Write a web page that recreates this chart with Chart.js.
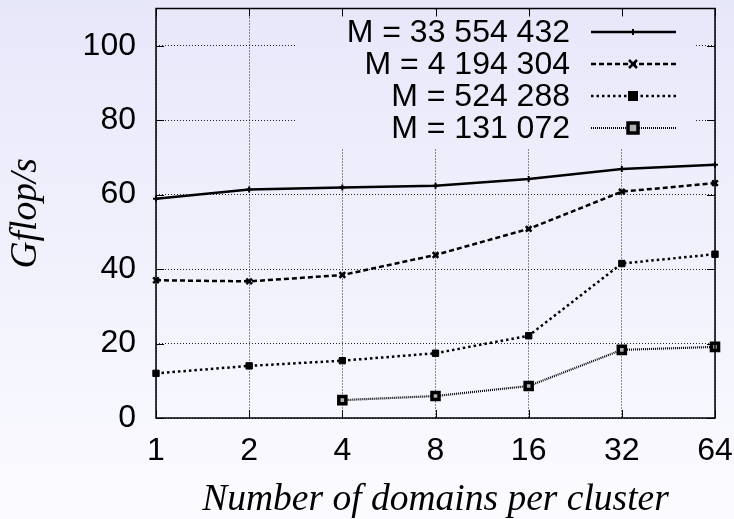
<!DOCTYPE html>
<html>
<head>
<meta charset="utf-8">
<script src="https://cdn.jsdelivr.net/npm/chart.js@4/dist/chart.umd.min.js"></script>
<style>
  html, body { margin: 0; padding: 0; }
  #wrap { width: 734px; height: 519px; position: relative; }
</style>
</head>
<body>
<div id="wrap"><canvas id="chart"></canvas></div>
<script>
// domains per cluster (log2 spaced)
const domains = ['1', '2', '4', '8', '16', '32', '64'];

const seriesLabels = ['M = 33 554 432', 'M = 4 194 304', 'M = 524 288', 'M = 131 072'];

// Gflop/s values
const m33554432 = [58.9, 61.4, 61.9, 62.4, 64.2, 66.9, 68.0];
const m4194304  = [37.0, 36.7, 38.4, 43.8, 50.8, 60.8, 63.1];
const m524288   = [12.0, 14.0, 15.4, 17.4, 22.1, 41.5, 44.0];
const m131072   = [null, null, 4.8, 5.9, 8.6, 18.3, 19.1];

const yTicks = [0, 20, 40, 60, 80, 100];

const SANS = '"Liberation Sans", Arial, sans-serif';
const TICK_FONT = '32px ' + SANS;
const TITLE_FONT = { family: '"Liberation Serif", "Times New Roman", serif', size: 37.5, style: 'italic' };

// line / marker styles, one per series
const styles = [
    { dash: [], width: 2.5, point: 'cross', radius: 3, bg: '#000', bw: 2 },
    { dash: [5, 3], width: 2.5, point: 'crossRot', radius: 4, bg: '#000', bw: 2.5 },
    { dash: [2.5, 3], width: 2.5, point: 'rect', radius: 4.5, bg: '#000', bw: 1 },
    { dash: [1, 1], width: 2.2, point: 'rect', radius: 5, bg: '#b0b0b0', bw: 3.5 }
];

function bgGradient(ctx) {
    const g = ctx.createLinearGradient(0, 0, 0, 519);
    g.addColorStop(0, '#e7e7fa');
    g.addColorStop(1, '#fbfbff');
    return g;
}

const background = {
    id: 'background',
    beforeDraw(chart) {
        const ctx = chart.ctx;
        ctx.save();
        ctx.fillStyle = bgGradient(ctx);
        ctx.fillRect(0, 0, chart.width, chart.height);
        ctx.restore();
    }
};

function drawMarker(ctx, st, x, y) {
    ctx.save();
    ctx.setLineDash([]);
    ctx.strokeStyle = '#000';
    ctx.lineWidth = st.bw;
    const r = st.radius;
    if (st.point === 'cross') {
        ctx.beginPath();
        ctx.moveTo(x - r, y); ctx.lineTo(x + r, y);
        ctx.moveTo(x, y - r); ctx.lineTo(x, y + r);
        ctx.stroke();
    } else if (st.point === 'crossRot') {
        ctx.beginPath();
        ctx.moveTo(x - r, y - r); ctx.lineTo(x + r, y + r);
        ctx.moveTo(x + r, y - r); ctx.lineTo(x - r, y + r);
        ctx.stroke();
    } else {
        ctx.fillStyle = st.bg;
        ctx.fillRect(x - r, y - r, 2 * r, 2 * r);
        ctx.strokeRect(x - r, y - r, 2 * r, 2 * r);
    }
    ctx.restore();
}

// gnuplot-like frame: legend box over the grid, border, inward ticks
const frame = {
    id: 'frame',
    afterDraw(chart) {
        const ctx = chart.ctx;
        const a = chart.chartArea;
        const xs = chart.scales.x, ys = chart.scales.y;
        ctx.save();

        // legend box hides the grid
        ctx.fillStyle = bgGradient(ctx);
        ctx.fillRect(297, a.top + 1, 398, 139);

        // border
        ctx.strokeStyle = '#000';
        ctx.lineWidth = 1.5;
        ctx.setLineDash([]);
        ctx.strokeRect(a.left, a.top, a.right - a.left, a.bottom - a.top);

        // inward ticks
        ctx.lineWidth = 1;
        ctx.beginPath();
        domains.forEach((d, i) => {
            const x = Math.round(xs.getPixelForValue(i)) + 0.5;
            ctx.moveTo(x, a.bottom); ctx.lineTo(x, a.bottom - 8);
            ctx.moveTo(x, a.top); ctx.lineTo(x, a.top + 8);
        });
        yTicks.forEach(v => {
            const y = Math.round(ys.getPixelForValue(v)) + 0.5;
            ctx.moveTo(a.left, y); ctx.lineTo(a.left + 8, y);
            ctx.moveTo(a.right, y); ctx.lineTo(a.right - 8, y);
        });
        ctx.stroke();

        // legend entries
        ctx.font = TICK_FONT;
        ctx.fillStyle = '#000';
        ctx.textAlign = 'right';
        ctx.textBaseline = 'middle';
        seriesLabels.forEach((label, i) => {
            const y = 32 + i * 32;
            const st = styles[i];
            ctx.fillText(label, 570, y + 1);
            ctx.beginPath();
            ctx.lineWidth = st.width;
            ctx.setLineDash(st.dash);
            ctx.moveTo(591, y);
            ctx.lineTo(676, y);
            ctx.stroke();
            drawMarker(ctx, st, 633, y);
        });
        ctx.restore();
    }
};

const seriesData = [m33554432, m4194304, m524288, m131072];

new Chart(document.getElementById('chart'), {
    type: 'line',
    data: {
        labels: domains,
        datasets: seriesData.map((vals, i) => ({
            label: seriesLabels[i],
            data: vals,
            borderColor: '#000',
            backgroundColor: styles[i].bg,
            borderWidth: styles[i].width,
            borderDash: styles[i].dash,
            pointStyle: styles[i].point,
            pointRadius: styles[i].radius,
            pointBorderColor: '#000',
            pointBackgroundColor: styles[i].bg,
            pointBorderWidth: styles[i].bw,
            tension: 0,
            fill: false
        }))
    },
    options: {
        responsive: true,
        maintainAspectRatio: false,
        animation: false,
        layout: { padding: { left: 0, top: 8, right: 19, bottom: 0 } },
        plugins: {
            legend: { display: false },
            tooltip: { enabled: false }
        },
        scales: {
            x: {
                type: 'category',
                offset: false,
                afterFit(scale) {
                    scale.height = 101;
                    scale.paddingLeft = 0;
                    scale.paddingRight = 0;
                },
                grid: {
                    color: '#222',
                    lineWidth: 1,
                    drawTicks: false,
                    offset: false
                },
                border: { display: false, dash: [1, 2] },
                ticks: {
                    color: '#000',
                    padding: 14,
                    font: { family: SANS, size: 32 }
                },
                title: {
                    display: true,
                    text: 'Number of domains per cluster',
                    color: '#000',
                    font: TITLE_FONT,
                    padding: { top: 0, bottom: -4 }
                }
            },
            y: {
                min: 0,
                max: 110,
                afterFit(scale) {
                    scale.width = 156;
                    scale.paddingTop = 0;
                    scale.paddingBottom = 0;
                },
                afterBuildTicks(scale) {
                    scale.ticks = yTicks.map(v => ({ value: v }));
                },
                grid: {
                    color: '#222',
                    lineWidth: 1,
                    drawTicks: false
                },
                border: { display: false, dash: [1, 2] },
                ticks: {
                    color: '#000',
                    padding: 20,
                    font: { family: SANS, size: 32 }
                },
                title: {
                    display: true,
                    text: 'Gflop/s',
                    color: '#000',
                    font: TITLE_FONT,
                    padding: { top: 4, bottom: 0 }
                }
            }
        }
    },
    plugins: [background, frame]
});
</script>
</body>
</html>
